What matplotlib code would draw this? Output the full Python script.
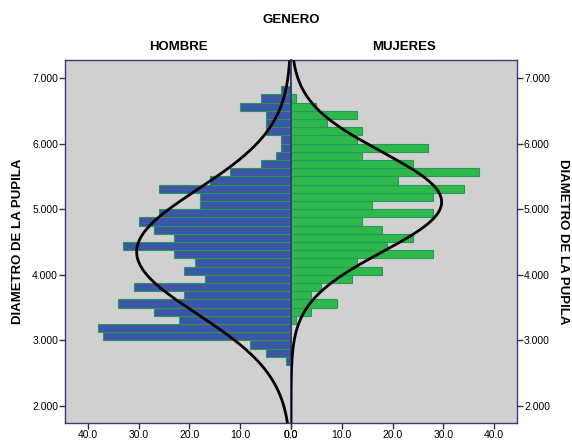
import matplotlib
matplotlib.use("Agg")
import matplotlib.pyplot as plt
import numpy as np

plt.rcParams['font.family'] = ['Liberation Sans', 'DejaVu Sans']

# bins of DIAMETRO DE LA PUPILA (lower edges), width 0.125
bin_width = 0.125
bin_lower = np.arange(2.625, 6.76, bin_width)

# counts per bin, bottom to top
hombre_counts = [1, 5, 8, 37, 38, 22, 27, 34, 21, 31, 17, 21, 19, 23, 33, 23, 27,
                 30, 26, 18, 18, 26, 16, 12, 6, 3, 2, 2, 5, 5, 5, 10, 6, 2]
mujeres_counts = [0, 0, 0, 0, 0, 1, 4, 9, 4, 6, 12, 18, 13, 28, 19, 24, 18, 14,
                  28, 16, 28, 34, 21, 37, 24, 14, 27, 13, 14, 7, 13, 5, 1, 0]

# normal curve parameters (mean, sd, n)
hombre_normal = (4.35, 0.95, 579)
mujeres_normal = (5.11, 0.76, 452)

y_ticks = [2.0, 3.0, 4.0, 5.0, 6.0, 7.0]
x_ticks = [0, 10, 20, 30, 40]

bg = '#d0d0d0'
frame = '#3a3a78'
blue = '#3d56a6'
green = '#2eb84c'
edge = '#249a5a'

W, H = 572, 442
fig = plt.figure(figsize=(W / 100, H / 100), dpi=100)
x0, x1, xm = 65, 517, 291
ytop, ybot = 60, 423
ax_l = fig.add_axes([x0 / W, 1 - ybot / H, (xm - x0) / W, (ybot - ytop) / H])
ax_r = fig.add_axes([xm / W, 1 - ybot / H, (x1 - xm) / W, (ybot - ytop) / H])

ylim = (1.74, 7.275)
yy = np.linspace(ylim[0], ylim[1], 400)

for ax, counts, color, params in [(ax_l, hombre_counts, blue, hombre_normal),
                                  (ax_r, mujeres_counts, green, mujeres_normal)]:
    ax.set_facecolor(bg)
    ax.barh(bin_lower, counts, height=bin_width, align='edge', color=color,
            edgecolor=edge, linewidth=0.8, zorder=2)
    mu, sd, n = params
    curve = n * bin_width / (sd * np.sqrt(2 * np.pi)) * np.exp(-0.5 * ((yy - mu) / sd) ** 2)
    ax.plot(curve, yy, color='black', lw=2.0, zorder=3)
    ax.set_xlim(0, 44.5)
    ax.set_ylim(*ylim)
    ax.set_xticks(x_ticks)
    ax.set_xticklabels([f'{v:.1f}' for v in x_ticks], fontsize=7.5)
    ax.set_yticks(y_ticks)
    ax.set_yticklabels([f'{v:.3f}' for v in y_ticks], fontsize=7.5)
    ax.tick_params(length=4, width=1, color='#333333', pad=1)
    for s in ax.spines.values():
        s.set_color(frame)
        s.set_linewidth(1)

ax_l.invert_xaxis()
ax_r.yaxis.tick_right()
ax_r.spines['left'].set_linewidth(1.3)
ax_l.spines['right'].set_linewidth(1.3)

ax_l.set_ylabel('DIAMETRO DE LA PUPILA', fontsize=9.5, fontweight='bold', labelpad=6)
ax_r.yaxis.set_label_position('right')
ax_r.set_ylabel('DIAMETRO DE LA PUPILA', fontsize=9.5, fontweight='bold',
                rotation=270, labelpad=14)

fig.text(xm / W, 1 - 20 / H, 'GENERO', ha='center', va='center', fontsize=9.5, fontweight='bold')
fig.text((x0 + xm) / 2 / W, 1 - 47 / H, 'HOMBRE', ha='center', va='center', fontsize=9.5, fontweight='bold')
fig.text((xm + x1) / 2 / W, 1 - 47 / H, 'MUJERES', ha='center', va='center', fontsize=9.5, fontweight='bold')

fig.savefig('out.png', dpi=100, facecolor='white')
